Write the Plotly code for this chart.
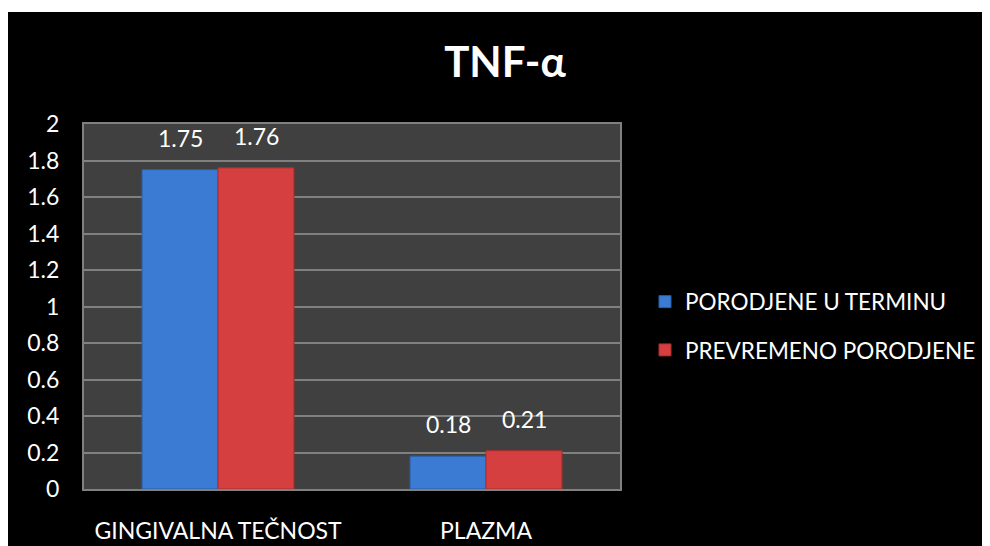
import plotly.graph_objects as go

categories = ["GINGIVALNA TEČNOST", "PLAZMA"]
series_names = ["PORODJENE U TERMINU", "PREVREMENO PORODJENE"]
term_values = [1.75, 0.18]
preterm_values = [1.76, 0.21]
y_ticks = [0, 0.2, 0.4, 0.6, 0.8, 1, 1.2, 1.4, 1.6, 1.8, 2]
title_text = "TNF-α"

FONT = "Lato"
OFF = 8  # page body margin
PAGE_W, PAGE_H = 990, 546
W, H = PAGE_W - OFF, PAGE_H - OFF
# plot area in page pixels: x 84..620, y 124..489
ML = 84 - OFF
MT = 124 - OFF
MR = W - (620 - OFF)
MB = H - (489 - OFF)
PW, PH = W - ML - MR, H - MT - MB

blue = "#3B7BD4"
red = "#D53F3F"

fig = go.Figure()
fig.add_trace(go.Bar(
    x=categories, y=term_values, name=series_names[0],
    marker=dict(color=blue, line=dict(color="#2A5EA8", width=1)),
    legendgroup="a",
))
fig.add_trace(go.Bar(
    x=categories, y=preterm_values, name=series_names[1],
    marker=dict(color=red, line=dict(color="#A82E2E", width=1)),
    legendgroup="b",
))

# value labels
ann = []
for vals, shift in ((term_values, -38), (preterm_values, 38)):
    for c, v in zip(categories, vals):
        ann.append(dict(
            x=c, y=v, xref="x", yref="y", text=f"{v:g}", showarrow=False,
            xshift=shift, yshift=16, yanchor="bottom",
            font=dict(family=FONT, size=23, color="white"),
        ))

def px_x(p):  # page px -> paper
    return (p - OFF - ML) / PW

def px_y(p):
    return (H - MB - (p - OFF)) / PH

shapes = [
    # extra white strip at top of chart
    dict(type="rect", xref="paper", yref="paper", x0=px_x(0), x1=px_x(PAGE_W + 20),
         y0=px_y(12), y1=px_y(0), fillcolor="white", line=dict(width=0), layer="above"),
]

fig.update_layout(
    width=W, height=H,
    margin=dict(l=ML, r=MR, t=MT, b=MB, pad=0, autoexpand=False),
    paper_bgcolor="black",
    plot_bgcolor="#404040",
    barmode="group",
    bargap=0.433,
    bargroupgap=0,
    font=dict(family=FONT, size=23, color="white"),
    title=dict(text=f"<b>{title_text}</b>", x=(505 - OFF) / W, xanchor="center",
               y=1 - (62 - OFF) / H, yanchor="middle",
               font=dict(family=FONT, size=42, color="white")),
    legend=dict(x=px_x(645), xanchor="left", y=px_y(326), yanchor="middle",
                font=dict(family=FONT, size=22.5, color="white"),
                bgcolor="rgba(0,0,0,0)", traceorder="grouped", tracegroupgap=16),
    annotations=ann,
    shapes=shapes,
    showlegend=True,
)
fig.update_xaxes(
    showline=True, linecolor="#808080", linewidth=2, mirror=True,
    ticks="outside", ticklen=20, tickcolor="rgba(0,0,0,0)",
    tickfont=dict(family=FONT, size=23, color="white"),
    showgrid=False, automargin=False,
)
fig.update_yaxes(
    range=[0, 2], tickvals=y_ticks, ticktext=[f"{t:g}" for t in y_ticks],
    showline=True, linecolor="#808080", linewidth=2, mirror=True,
    gridcolor="#808080", gridwidth=2,
    ticks="outside", ticklen=18, tickcolor="rgba(0,0,0,0)",
    tickfont=dict(family=FONT, size=23, color="white"),
    zeroline=False, automargin=False,
)

fig.write_html("out.html", config={"displayModeBar": False})
